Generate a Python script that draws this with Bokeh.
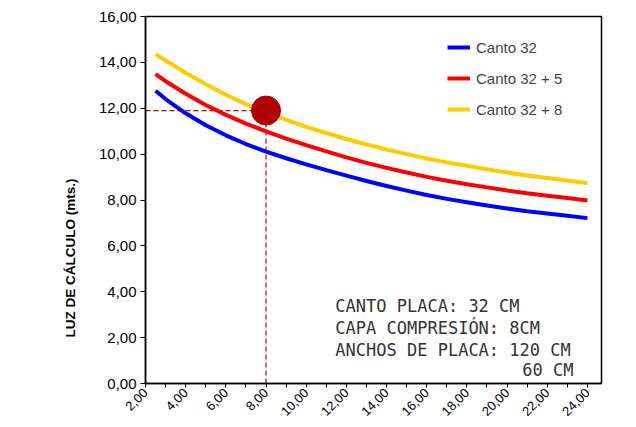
import math
from bokeh.plotting import figure
from bokeh.models import (Range1d, FixedTicker, CustomJSTickFormatter, Label,
                          Legend, LegendItem, Title)
from bokeh.embed import file_html
from bokeh.resources import INLINE

# ---- data ----
x_vals = [2.5, 3, 4, 5, 6, 7, 8, 9, 10, 11, 12, 13, 14, 15, 16, 17, 18,
          19, 20, 21, 22, 23, 24]
canto32 = [12.76, 12.40, 11.78, 11.26, 10.82, 10.44, 10.11, 9.82, 9.55,
           9.30, 9.06, 8.83, 8.61, 8.41, 8.22, 8.05, 7.90, 7.76, 7.63,
           7.51, 7.41, 7.31, 7.21]
canto32_5 = [13.49, 13.18, 12.63, 12.14, 11.71, 11.33, 10.99, 10.68, 10.39,
             10.12, 9.86, 9.62, 9.40, 9.20, 9.01, 8.84, 8.69, 8.55, 8.41,
             8.29, 8.19, 8.09, 7.98]
canto32_8 = [14.36, 14.08, 13.55, 13.05, 12.59, 12.18, 11.82, 11.49, 11.19,
             10.92, 10.66, 10.42, 10.20, 10.00, 9.81, 9.64, 9.49, 9.34, 9.20,
             9.07, 8.96, 8.85, 8.73]
series_names = ["Canto 32", "Canto 32 + 5", "Canto 32 + 8"]
series_colors = ["#0000FF", "#FF0000", "#FFCC00"]

sel_x = 8.0
sel_y = 11.9

x_ticks = [2, 4, 6, 8, 10, 12, 14, 16, 18, 20, 22, 24]
x_minor = [3, 5, 7, 9, 11, 13, 15, 17, 19, 21, 23]
y_ticks = [0, 2, 4, 6, 8, 10, 12, 14, 16]

y_title = "LUZ DE CÁLCULO (mts.)"
note_lines = ["CANTO PLACA: 32 CM", "CAPA COMPRESIÓN: 8CM",
              "ANCHOS DE PLACA: 120 CM", "60 CM"]

# ---- figure ----
p = figure(width=636, height=427, output_backend="svg", toolbar_location=None,
           x_range=Range1d(2, 24.7), y_range=Range1d(0, 16),
           min_border_left=145, min_border_right=35, min_border_top=16,
           min_border_bottom=44)
p.grid.visible = False
p.outline_line_color = "black"
p.outline_line_width = 1.5
p.background_fill_color = "white"
p.border_fill_color = "white"

fmt = CustomJSTickFormatter(code="return tick.toFixed(2).replace('.', ',');")

xa = p.xaxis[0]
xa.ticker = FixedTicker(ticks=x_ticks, minor_ticks=x_minor)
xa.formatter = fmt
xa.major_label_orientation = math.pi / 4
xa.major_label_text_font = "Liberation Sans"
xa.major_label_text_font_size = "13px"
xa.major_label_text_color = "black"
xa.axis_line_color = "black"
xa.axis_line_width = 1.5
xa.major_tick_out = 4
xa.major_tick_in = 0
xa.minor_tick_out = 4
xa.minor_tick_in = 0
xa.major_tick_line_color = "black"
xa.minor_tick_line_color = "black"
xa.major_label_standoff = 3

ya = p.yaxis[0]
ya.ticker = FixedTicker(ticks=y_ticks)
ya.formatter = fmt
ya.major_label_text_font = "Liberation Sans"
ya.major_label_text_font_size = "15px"
ya.major_label_text_color = "black"
ya.axis_line_color = "black"
ya.axis_line_width = 1.5
ya.major_tick_out = 5
ya.major_tick_in = 0
ya.minor_tick_line_color = None
ya.major_tick_line_color = "black"
ya.major_label_standoff = 4

# dashed guide lines
p.line([x_ticks[0], sel_x], [sel_y, sel_y], line_color="#C00000",
       line_width=1.2, line_dash="5 3")
p.line([sel_x, sel_x], [y_ticks[0], sel_y], line_color="#C00000",
       line_width=1.2, line_dash="5 3")

items = []
for name, col, ys in zip(series_names, series_colors,
                         [canto32, canto32_5, canto32_8]):
    r = p.line(x_vals, ys, line_color=col, line_width=4, line_join="round")
    items.append(LegendItem(label=name, renderers=[r]))

p.scatter([sel_x], [sel_y], size=29, color="#B00000")

legend = Legend(items=items, location=(302, 264), padding=0, margin=0,
                border_line_alpha=0, background_fill_alpha=0,
                label_text_font="Liberation Sans", label_text_font_size="15px",
                label_height=20, glyph_height=20, glyph_width=23,
                label_standoff=6, spacing=11)
p.add_layout(legend, "center")

# y title as a side title
yt = Title(text=y_title, align="left", offset=46, standoff=36,
           text_font="Liberation Sans", text_font_style="bold",
           text_font_size="13.5px", text_color="black")
p.add_layout(yt, "left")

# note text
note_y = [3.36, 2.44, 1.44, 0.57]
for i, (t, yy) in enumerate(zip(note_lines, note_y)):
    if i < 3:
        lab = Label(x=11.45, y=yy, text=t, text_align="left",
                    text_baseline="middle")
    else:
        lab = Label(x=23.3, y=yy, text=t, text_align="right",
                    text_baseline="middle")
    lab.text_font = "DejaVu Sans Mono"
    lab.text_font_size = "17px"
    lab.text_color = "#333333"
    p.add_layout(lab)

open("out.html", "w").write(file_html(p, INLINE))
